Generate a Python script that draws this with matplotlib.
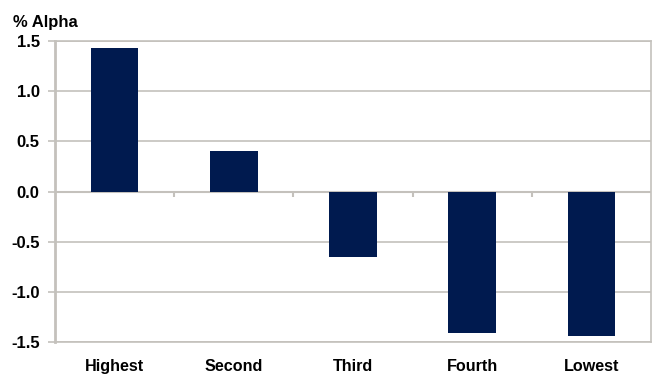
import matplotlib
matplotlib.use("Agg")
import matplotlib.pyplot as plt
import numpy as np

categories = ["Highest", "Second", "Third", "Fourth", "Lowest"]
alpha = [1.43, 0.40, -0.65, -1.41, -1.44]
yticks = [-1.5, -1.0, -0.5, 0.0, 0.5, 1.0, 1.5]

NAVY = "#001A4F"
GREY = "#C4C1BC"

plt.rcParams["font.family"] = ["Liberation Sans", "DejaVu Sans"]
plt.rcParams["font.weight"] = "bold"

fig = plt.figure(figsize=(6.53, 3.74), dpi=100)
ax = fig.add_axes([0.0842, 0.0856, 0.9128, 0.8044])

x = np.arange(len(categories))
ax.bar(x, alpha, width=0.4, color=NAVY, zorder=3)

ax.set_xlim(-0.5, len(categories) - 0.5)
ax.set_ylim(-1.5, 1.5)
ax.set_yticks(yticks)
ax.set_yticklabels([f"{v:.1f}" for v in yticks], fontsize=12, fontweight="bold")
ax.set_xticks(x)
ax.set_xticklabels(categories, fontsize=11.6, fontweight="bold")
ax.tick_params(axis="x", length=0, pad=12)
ax.tick_params(axis="y", length=5, width=1.2, color=GREY, pad=6)

ax.grid(axis="y", color=GREY, lw=1.2, zorder=0)
for s in ax.spines.values():
    s.set_color(GREY)
    s.set_linewidth(1.2)
ax.spines["left"].set_linewidth(2)

# zero line with small ticks at the category boundaries
ax.axhline(0, color=GREY, lw=1.5, zorder=2)
bounds = x[:-1] + 0.5
ax.vlines(bounds, -0.05, 0, color=GREY, lw=1.5, zorder=2)

fig.text(0.02, 0.94, "% Alpha", fontsize=12, fontweight="bold", va="center")

fig.savefig("out.png", dpi=100)
